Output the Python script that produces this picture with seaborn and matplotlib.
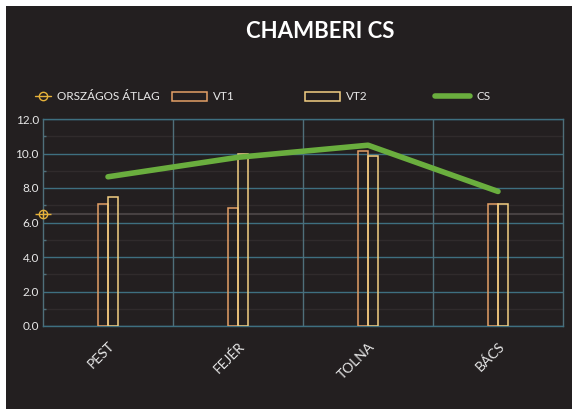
import pandas as pd
import matplotlib.pyplot as plt
import seaborn as sns
import numpy as np
from matplotlib.lines import Line2D
from matplotlib.patches import Rectangle, Patch
from matplotlib.ticker import FormatStrFormatter, MultipleLocator

# --- 0. DATA ---
regions = ['PEST', 'FEJÉR', 'TOLNA', 'BÁCS']
vt1 = [7.1, 6.85, 10.15, 7.1]
vt2 = [7.45, 9.95, 9.85, 7.1]
cs = [8.65, 9.78, 10.48, 7.8]
orszagos_atlag = 6.5
y_ticks = [0, 2, 4, 6, 8, 10, 12]

df_bars = pd.DataFrame({
    'Megye': regions * 2,
    'Ertek': vt1 + vt2,
    'Sorozat': ['VT1'] * len(regions) + ['VT2'] * len(regions),
})
df_line = pd.DataFrame({'Megye': regions, 'CS': cs})

# --- 1. STYLE ---
BG = '#231f20'
GRID = '#3e6f80'
VGRID = '#4f6f7a'
MINOR = '#302b2c'
TXT = '#e8e8e8'
C_VT1 = '#e3a066'
C_VT2 = '#f3cf82'
C_CS = '#6aae3e'
C_ATL = '#e6b23a'

sns.set_theme(style="white")
plt.rcParams['font.family'] = ['Lato', 'DejaVu Sans']

fig = plt.figure(figsize=(5.72, 4.09), dpi=100, facecolor='white')
fig.patches.append(Rectangle((6 / 572, 0), 1, 1 - 6 / 409, transform=fig.transFigure,
                             facecolor=BG, edgecolor='none', zorder=-5))
ax = fig.add_axes([43 / 572, 1 - 326 / 409, 520 / 572, 207 / 409])
ax.set_facecolor(BG)
ax.set_zorder(2)

# --- 2. PLOT ---
sns.barplot(data=df_bars, x='Megye', y='Ertek', hue='Sorozat', order=regions,
            palette={'VT1': C_VT1, 'VT2': C_VT2}, fill=False, width=0.148,
            linewidth=1.1, errorbar=None, legend=False, ax=ax, zorder=3)

sns.lineplot(data=df_line, x='Megye', y='CS', color=C_CS, linewidth=4,
             ax=ax, zorder=4, sort=False)

# országos átlag: halvány vonal + jelölő a bal tengelyen
ax.axhline(orszagos_atlag, color='#474142', linewidth=1.5, zorder=1)
ax.plot([-0.5], [orszagos_atlag], marker='o', markersize=6, markerfacecolor='none',
        markeredgecolor=C_ATL, markeredgewidth=1, clip_on=False, zorder=5)
ax.plot([-0.5], [orszagos_atlag], marker='_', markersize=11, color=C_ATL,
        markeredgewidth=1, clip_on=False, zorder=5)
ax.plot([-0.5], [orszagos_atlag], marker='|', markersize=6, color=C_ATL,
        markeredgewidth=1, clip_on=False, zorder=5)

# --- 3. AXES ---
ax.set_xlim(-0.5, 3.5)
ax.set_ylim(0, 12)
ax.set_yticks(y_ticks)
ax.yaxis.set_major_formatter(FormatStrFormatter('%.1f'))
ax.yaxis.set_minor_locator(MultipleLocator(1))
ax.set_xlabel('')
ax.set_ylabel('')

ax.grid(axis='y', which='major', color=GRID, linewidth=1, zorder=1)
ax.grid(axis='y', which='minor', color=MINOR, linewidth=1, zorder=1)
for xv in [0.5, 1.5, 2.5]:
    ax.axvline(xv, color=VGRID, linewidth=1, zorder=1)
ax.set_axisbelow(True)

for sp in ax.spines.values():
    sp.set_color(GRID)
    sp.set_linewidth(1)
ax.spines['left'].set_color(VGRID)
ax.spines['right'].set_color(VGRID)

ax.tick_params(axis='y', which='major', length=0, pad=3, labelsize=8.5, labelcolor=TXT)
ax.tick_params(axis='y', which='minor', length=2.5, direction='in', color=VGRID, left=True)
ax.tick_params(axis='x', length=0, pad=10, labelsize=10, labelcolor=TXT)
plt.setp(ax.get_xticklabels(), rotation=45, ha='right', rotation_mode='anchor')

# --- 4. TITLE & LEGEND ---
fig.text(320 / 572, 1 - 32 / 409, 'CHAMBERI CS', color='white', fontsize=16,
         fontweight='bold', ha='center', va='center')

handles = [
    (Line2D([], [], color=C_ATL, linewidth=1, marker='o', markersize=6,
            markerfacecolor='none', markeredgecolor=C_ATL), 'ORSZÁGOS ÁTLAG', 35, 1.35),
    (Patch(facecolor='none', edgecolor=C_VT1, linewidth=1.1), 'VT1', 172, 3.0),
    (Patch(facecolor='none', edgecolor=C_VT2, linewidth=1.1), 'VT2', 305, 3.0),
    (Line2D([], [], color=C_CS, linewidth=4), 'CS', 435, 3.0),
]
for h, lab, xpx, hl in handles:
    fig.legend([h], [lab], loc='center left', bbox_to_anchor=(xpx / 572, 1 - 97 / 409),
               frameon=False, fontsize=8.5, labelcolor=TXT, handlelength=hl,
               handletextpad=0.5, borderaxespad=0, borderpad=0)

fig.savefig('out.png', dpi=100, facecolor=fig.get_facecolor())
plt.close(fig)
